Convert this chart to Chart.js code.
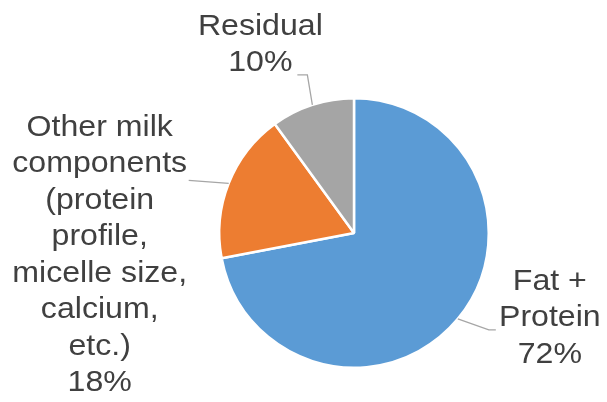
<!DOCTYPE html>
<html>
<head>
<meta charset="utf-8">
<script src="https://cdn.jsdelivr.net/npm/chart.js@4/dist/chart.umd.min.js"></script>
<style>
  html, body { margin: 0; padding: 0; background: #fff; }
  #wrap { width: 607px; height: 402px; }
</style>
</head>
<body>
<div id="wrap"><canvas id="pie"></canvas></div>
<script>
// slices, clockwise from 12 o'clock
var labels = [
    ['Fat +', 'Protein'],
    ['Other milk', 'components', '(protein', 'profile,', 'micelle size,', 'calcium,', 'etc.)'],
    ['Residual']
];
var shares = [72, 18, 10];
var colours = ['#5B9BD5', '#ED7D31', '#A5A5A5'];

// where each label sits relative to its slice mid point on the rim (dx, dy),
// plus the leader line elbow and end, all relative to the rim point
var labelPlace = [
    { text: [92, -1], elbow: [31, 11], end: [38, 11] },
    { text: [-129, 72], elbow: [-40, -3], end: [-40, -3] },
    { text: [-52, -60], elbow: [-5, -30], end: [-15, -30] }
];

var pieLabels = {
    id: 'pieLabels',
    afterDatasetsDraw: function(chart) {
        var ctx = chart.ctx;
        var meta = chart.getDatasetMeta(0);
        var lineH = 36.5;
        ctx.save();
        ctx.font = '30px "Liberation Sans", Arial, sans-serif';
        ctx.textAlign = 'center';
        ctx.textBaseline = 'middle';
        meta.data.forEach(function(arc, i) {
            var mid = (arc.startAngle + arc.endAngle) / 2;
            var rx = arc.x + Math.cos(mid) * arc.outerRadius;
            var ry = arc.y + Math.sin(mid) * arc.outerRadius;
            var p = labelPlace[i];

            ctx.strokeStyle = '#A6A6A6';
            ctx.lineWidth = 1.3;
            ctx.beginPath();
            ctx.moveTo(rx, ry);
            ctx.lineTo(rx + p.elbow[0], ry + p.elbow[1]);
            ctx.lineTo(rx + p.end[0], ry + p.end[1]);
            ctx.stroke();

            var lines = labels[i].concat([shares[i] + '%']);
            var cx = rx + p.text[0];
            var top = ry + p.text[1] - (lines.length - 1) * lineH / 2;
            ctx.fillStyle = '#404040';
            lines.forEach(function(t, k) {
                ctx.save();
                ctx.translate(cx, top + k * lineH);
                ctx.scale(1.07, 1);
                ctx.fillText(t, 0, 0);
                ctx.restore();
            });
        });
        ctx.restore();
    }
};

new Chart(document.getElementById('pie'), {
    type: 'pie',
    data: {
        labels: labels.map(function(l) { return l.join(' '); }),
        datasets: [{
            data: shares,
            backgroundColor: colours,
            borderColor: '#ffffff',
            borderWidth: 2.5
        }]
    },
    options: {
        responsive: true,
        maintainAspectRatio: false,
        animation: false,
        events: [],
        layout: { padding: { left: 218, top: 97, right: 117, bottom: 33 } },
        plugins: {
            legend: { display: false },
            tooltip: { enabled: false }
        }
    },
    plugins: [pieLabels]
});
</script>
</body>
</html>
